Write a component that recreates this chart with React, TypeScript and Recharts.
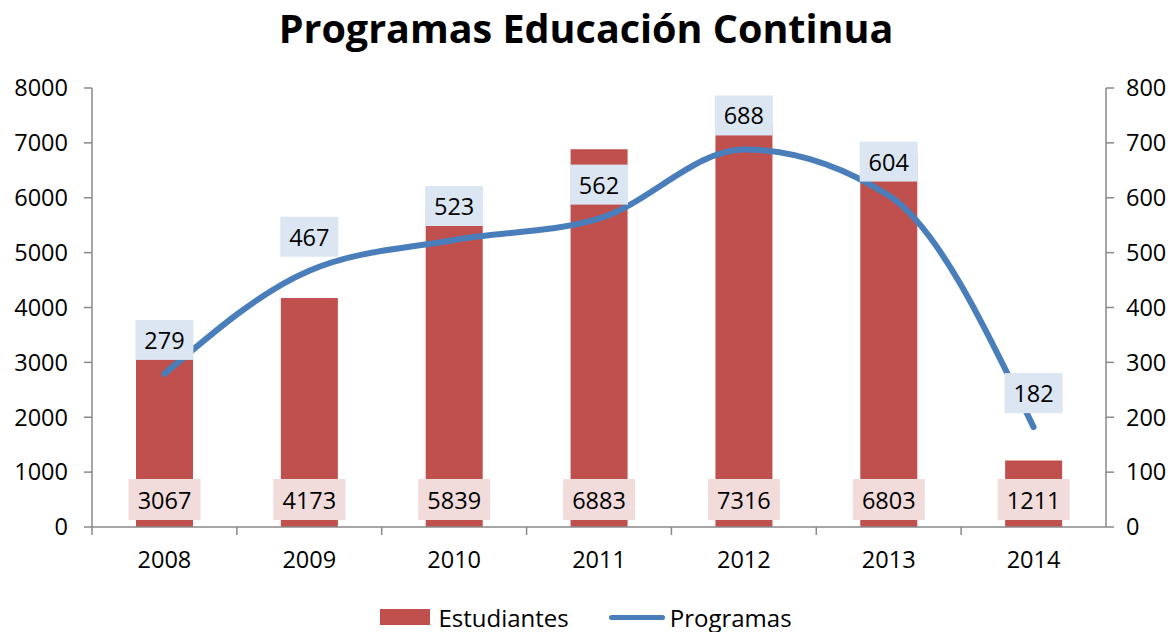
import React from 'react';
import { ComposedChart, Bar, Line, XAxis, YAxis, Legend, LabelList } from 'recharts';

const years = ['2008', '2009', '2010', '2011', '2012', '2013', '2014'];
const estudiantes = [3067, 4173, 5839, 6883, 7316, 6803, 1211];
const programas = [279, 467, 523, 562, 688, 604, 182];
const leftTicks = [0, 1000, 2000, 3000, 4000, 5000, 6000, 7000, 8000];
const rightTicks = [0, 100, 200, 300, 400, 500, 600, 700, 800];

const data = years.map((year, i) => ({
  year,
  estudiantes: estudiantes[i],
  programas: programas[i],
}));

const FONT = '"Open Sans", "Noto Sans", sans-serif';
const FS = 23.5;
const AXIS = '#898989';
const RED = '#C0504D';
const BLUE = '#4A7EBB';
const W = 1172;
const H = 632;
const LEFT_W = 92;
const RIGHT_W = 66;
const BAND = (W - LEFT_W - RIGHT_W) / years.length;

const XTick = (props: any) => {
  const { x, y, payload } = props;
  return (
    <g>
      <line x1={x - BAND / 2} x2={x - BAND / 2} y1={y} y2={y + 8} stroke={AXIS} strokeWidth={1.5} />
      <text x={x} y={y + 32} textAnchor="middle" dominantBaseline="central" fontSize={FS} fill="#000" fontFamily={FONT}>
        {payload.value}
      </text>
    </g>
  );
};

const BarLabel = (props: any) => {
  const { x, y, width, height, value } = props;
  const cx = x + width / 2;
  const cy = y + height - 27;
  return (
    <g>
      <rect x={cx - 36} y={cy - 21} width={72} height={41} fill="#F2DCDB" />
      <text x={cx} y={cy} textAnchor="middle" dominantBaseline="central" fontSize={FS} fill="#000" fontFamily={FONT}>
        {value}
      </text>
    </g>
  );
};

const LineLabel = (props: any) => {
  const { x, y, value } = props;
  const cy = y - 34;
  return (
    <g>
      <rect x={x - 29} y={cy - 20} width={58} height={40} fill="#DCE6F2" />
      <text x={x} y={cy} textAnchor="middle" dominantBaseline="central" fontSize={FS} fill="#000" fontFamily={FONT}>
        {value}
      </text>
    </g>
  );
};

const LegendContent = () => (
  <div style={{ display: 'flex', justifyContent: 'center', alignItems: 'center', height: 30, fontFamily: FONT, fontSize: 24, color: '#000' }}>
    <span style={{ display: 'inline-block', width: 50, height: 16, background: RED, marginRight: 8 }} />
    <span style={{ marginRight: 40 }}>Estudiantes</span>
    <span style={{ display: 'inline-block', width: 56, height: 5, borderRadius: 3, background: BLUE, marginRight: 5 }} />
    <span>Programas</span>
  </div>
);

export default function App() {
  return (
    <div style={{ position: 'absolute', left: 0, top: 0, width: W, height: H, background: '#fff' }}>
      <div
        style={{
          position: 'absolute',
          left: 0,
          top: 1,
          width: W,
          textAlign: 'center',
          fontFamily: FONT,
          fontWeight: 700,
          fontSize: 39.5,
          color: '#000',
        }}
      >
        Programas Educación Continua
      </div>
      <ComposedChart width={W} height={H} data={data} margin={{ top: 88, right: 0, bottom: 0, left: 0 }} barCategoryGap={0}>
        <XAxis
          dataKey="year"
          height={75}
          tickLine={false}
          tickSize={0}
          tickMargin={0}
          tick={<XTick />}
          axisLine={{ stroke: AXIS, strokeWidth: 1.5 }}
        />
        <YAxis
          yAxisId="left"
          width={LEFT_W}
          domain={[0, 8000]}
          ticks={leftTicks}
          tickSize={8}
          tickMargin={16}
          axisLine={{ stroke: AXIS, strokeWidth: 1.5 }}
          tickLine={{ stroke: AXIS, strokeWidth: 1.5 }}
          tick={{ fontSize: FS, fill: '#000', fontFamily: FONT }}
        />
        <YAxis
          yAxisId="right"
          orientation="right"
          width={RIGHT_W}
          domain={[0, 800]}
          ticks={rightTicks}
          tickSize={8}
          tickMargin={12}
          axisLine={{ stroke: AXIS, strokeWidth: 1.5 }}
          tickLine={{ stroke: AXIS, strokeWidth: 1.5 }}
          tick={{ fontSize: FS, fill: '#000', fontFamily: FONT, textAnchor: 'start' }}
        />
        <Legend verticalAlign="bottom" height={30} content={<LegendContent />} />
        <Bar yAxisId="left" dataKey="estudiantes" name="Estudiantes" fill={RED} barSize={57} isAnimationActive={false}>
          <LabelList dataKey="estudiantes" content={<BarLabel />} />
        </Bar>
        <Line
          yAxisId="right"
          type="monotone"
          dataKey="programas"
          name="Programas"
          stroke={BLUE}
          strokeWidth={6}
          strokeLinecap="round"
          dot={false}
          activeDot={false}
          isAnimationActive={false}
        >
          <LabelList dataKey="programas" content={<LineLabel />} />
        </Line>
      </ComposedChart>
    </div>
  );
}
